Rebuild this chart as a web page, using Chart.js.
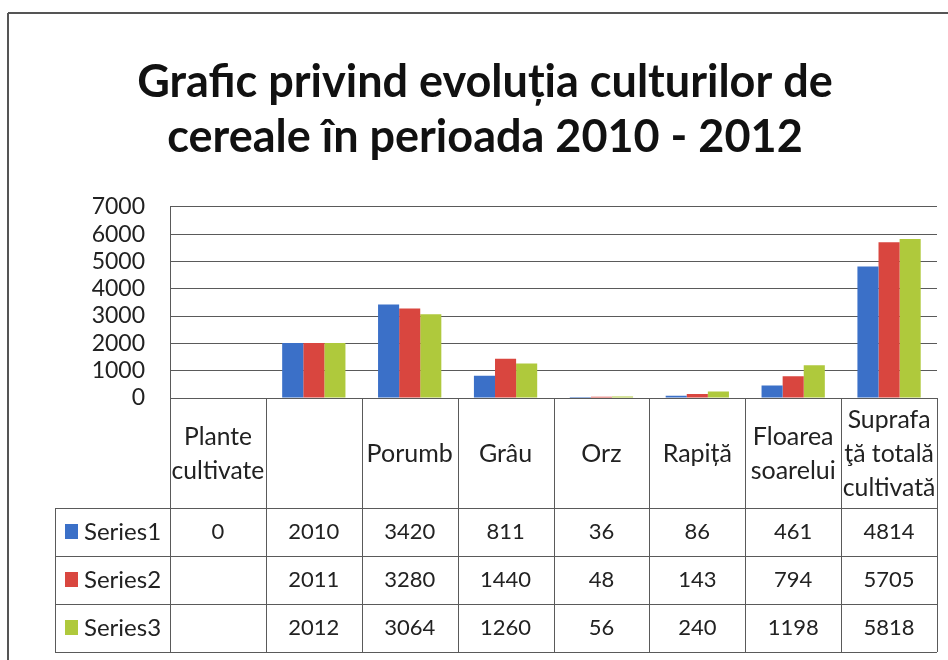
<!DOCTYPE html>
<html><head><meta charset="utf-8">
<script src="https://cdn.jsdelivr.net/npm/chart.js@4/dist/chart.umd.min.js"></script>
<style>html,body{margin:0;padding:0;background:#fff}#wrap{width:948px;height:660px;position:relative}</style>
</head><body><div id="wrap"><canvas id="c" width="948" height="660"></canvas></div>
<script>
const titleLines = ['Grafic privind evoluția culturilor de', 'cereale în perioada 2010 - 2012'];
const categories = [['Plante', 'cultivate'], [''], ['Porumb'], ['Grâu'], ['Orz'], ['Rapiță'], ['Floarea', 'soarelui'], ['Suprafa', 'ţă totală', 'cultivată']];
const seriesNames = ['Series1', 'Series2', 'Series3'];
const series1 = [0, 2010, 3420, 811, 36, 86, 461, 4814];
const series2 = [null, 2011, 3280, 1440, 48, 143, 794, 5705];
const series3 = [null, 2012, 3064, 1260, 56, 240, 1198, 5818];
const yTicks = [0, 1000, 2000, 3000, 4000, 5000, 6000, 7000];

const colors = ['#3B70C8', '#D9463F', '#AFC93C'];
const FONT = 'Lato, "Open Sans", sans-serif';

const tablePlugin = {
  id: 'dataTable',
  beforeDraw(chart) {
    const ctx = chart.ctx;
    ctx.save();
    ctx.fillStyle = '#fff';
    ctx.fillRect(0, 0, chart.width, chart.height);
    ctx.strokeStyle = '#555';
    ctx.lineWidth = 2;
    ctx.beginPath();
    ctx.moveTo(8, 13); ctx.lineTo(chart.width, 13);
    ctx.moveTo(8, 13); ctx.lineTo(8, chart.height);
    ctx.stroke();
    ctx.restore();
  },
  afterDraw(chart) {
    const ctx = chart.ctx;
    const a = chart.chartArea;
    const n = categories.length;
    const cw = (a.right - a.left) / n;
    const headerBottom = a.bottom + 110;
    const rowH = 48;
    const tableBottom = headerBottom + rowH * 3;
    const legendLeft = 55;
    ctx.save();
    ctx.strokeStyle = '#5a5a5a';
    ctx.lineWidth = 1;
    ctx.beginPath();
    for (let i = 0; i <= n; i++) {
      const x = Math.round(a.left + i * cw) + 0.5;
      ctx.moveTo(x, a.bottom); ctx.lineTo(x, tableBottom);
    }
    for (let r = 0; r <= 3; r++) {
      const y = Math.round(headerBottom + r * rowH) + 0.5;
      ctx.moveTo(legendLeft, y); ctx.lineTo(a.right, y);
    }
    ctx.moveTo(legendLeft + 0.5, headerBottom); ctx.lineTo(legendLeft + 0.5, tableBottom);
    ctx.stroke();

    ctx.fillStyle = '#222';
    ctx.textAlign = 'center';
    ctx.textBaseline = 'middle';
    // header labels
    categories.forEach((lines, i) => {
      const cx = chart.scales.x.getPixelForValue(i);
      let size = 25;
      ctx.font = size + 'px ' + FONT;
      const maxW = Math.max(...lines.map(t => ctx.measureText(t).width));
      if (maxW > cw - 3) { size = Math.floor(size * (cw - 3) / maxW * 10) / 10; ctx.font = size + 'px ' + FONT; }
      const lh = 34;
      const cy = (a.bottom + headerBottom) / 2 + 1;
      lines.forEach((t, k) => {
        ctx.fillText(t, cx, cy + (k - (lines.length - 1) / 2) * lh);
      });
    });
    // rows
    const all = [series1, series2, series3];
    all.forEach((vals, r) => {
      const cy = headerBottom + r * rowH + rowH / 2;
      ctx.fillStyle = colors[r];
      ctx.fillRect(65, cy - 8, 13, 15);
      ctx.fillStyle = '#222';
      ctx.textAlign = 'left';
      ctx.font = '24px ' + FONT;
      ctx.fillText(seriesNames[r], 84, cy);
      ctx.textAlign = 'center';
      ctx.font = '22px ' + FONT;
      vals.forEach((v, i) => {
        if (v === null) return;
        ctx.fillText(String(v), chart.scales.x.getPixelForValue(i), cy);
      });
    });
    ctx.restore();
  }
};

new Chart(document.getElementById('c'), {
  type: 'bar',
  data: {
    labels: categories.map(c => c.join(' ')),
    datasets: [series1, series2, series3].map((d, i) => ({
      label: seriesNames[i],
      data: d,
      backgroundColor: colors[i],
      borderWidth: 0,
      categoryPercentage: 0.66,
      barPercentage: 1.0
    }))
  },
  options: {
    responsive: false,
    animation: false,
    devicePixelRatio: 1,
    layout: { padding: { top: 0, right: 11, bottom: 262, left: 33 } },
    plugins: {
      legend: { display: false },
      tooltip: { enabled: false },
      title: {
        display: true,
        text: titleLines,
        color: '#111',
        font: { family: FONT, size: 45, weight: 'bold', lineHeight: 1.22 },
        padding: { top: 55, bottom: 42 }
      }
    },
    scales: {
      x: { display: false },
      y: {
        min: yTicks[0], max: yTicks[yTicks.length - 1],
        afterBuildTicks(scale) { scale.ticks = yTicks.map(v => ({ value: v })); },
        ticks: { autoSkip: false, color: '#222', font: { family: FONT, size: 23 }, padding: 25,
          callback: v => String(v) },
        grid: { color: '#5a5a5a', drawTicks: false },
        border: { display: true, color: '#5a5a5a' },
        afterFit(scale) { scale.width = 137; }
      }
    }
  },
  plugins: [tablePlugin]
});
</script>
</body></html>
